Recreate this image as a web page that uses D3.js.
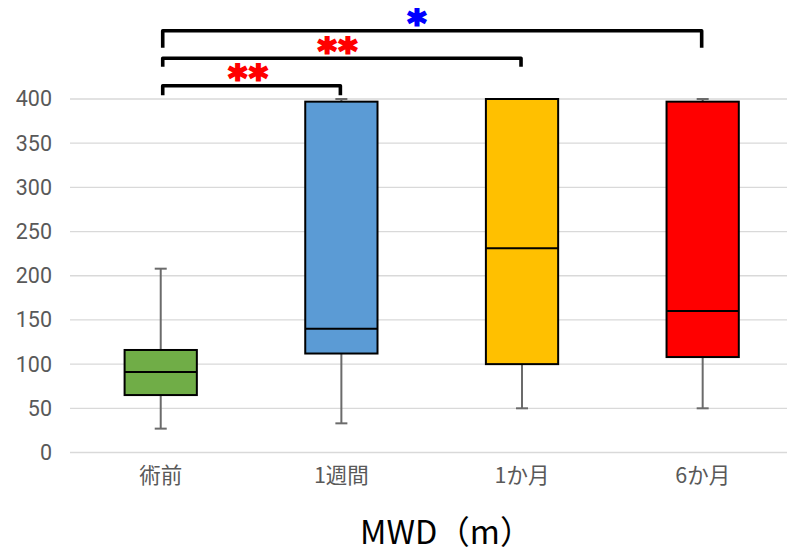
<!DOCTYPE html>
<html>
<head>
<meta charset="utf-8">
<script src="https://cdn.jsdelivr.net/npm/d3@7"></script>
<style>
  html, body { margin: 0; padding: 0; background: #fff; }
  svg { display: block; }
</style>
</head>
<body>
<svg id="chart" width="787" height="555"></svg>
<script>
// Groups along the x axis
const categories = ["術前", "1週間", "1か月", "6か月"];
// Five-number summaries per group (MWD, metres)
const whiskerLow  = [27, 33, 50, 50];
const q1          = [65, 112, 100, 108];
const median      = [91, 140, 231, 160];
const q3          = [116, 397, 400, 397];
const whiskerHigh = [208, 400, 400, 400];
const boxColors   = ["#70AD47", "#5B9BD5", "#FFC000", "#FF0000"];
// Y axis ticks
const yTicks = [0, 50, 100, 150, 200, 250, 300, 350, 400];
// Significance brackets: from group, to group, marker text, marker colour
const bracketFrom  = ["術前", "術前", "術前"];
const bracketTo    = ["1週間", "1か月", "6か月"];
const bracketMarks = ["**", "**", "*"];
const bracketColor = ["#FF0000", "#FF0000", "#0000FF"];
const titleText = "MWD（m）";

const W = 787, H = 555;
const svg = d3.select("#chart");

const x = d3.scaleBand().domain(categories).range([70.4, 793]).paddingInner(0).paddingOuter(0);
const y = d3.scaleLinear().domain([0, 400]).range([452.5, 99]);
const cx = c => x(c) + x.bandwidth() / 2;
const boxW = x.bandwidth() * 0.4;

// Horizontal gridlines
svg.append("g").selectAll("line").data(yTicks).join("line")
  .attr("x1", 70).attr("x2", W)
  .attr("y1", d => y(d)).attr("y2", d => y(d))
  .attr("stroke", "#d9d9d9").attr("stroke-width", 1.3);

// Y axis labels through a d3 axis (domain and tick marks hidden)
const yAxis = svg.append("g").attr("transform", "translate(70,0)")
  .call(d3.axisLeft(y).tickValues(yTicks).tickSize(0).tickPadding(18));
yAxis.select(".domain").remove();
yAxis.selectAll("text")
  .attr("fill", "#595959")
  .style("font-family", "Roboto, 'Liberation Sans', sans-serif")
  .style("font-size", "21.5px");

// X axis category labels
const xAxis = svg.append("g").attr("transform", "translate(0,453)")
  .call(d3.axisBottom(x).tickSize(0).tickPadding(18));
xAxis.select(".domain").remove();
xAxis.selectAll("text")
  .attr("fill", "#595959")
  .attr("dy", "0.55em")
  .style("font-family", "'Noto Sans CJK JP', Roboto, sans-serif")
  .style("font-size", "21.5px");

// Box plots
const groups = svg.append("g").selectAll("g").data(categories).join("g");
groups.each(function(c, i) {
  const g = d3.select(this);
  const xc = cx(c);
  // whiskers
  g.append("line").attr("x1", xc).attr("x2", xc)
    .attr("y1", y(whiskerLow[i])).attr("y2", y(q1[i]))
    .attr("stroke", "#6b6b6b").attr("stroke-width", 2);
  g.append("line").attr("x1", xc).attr("x2", xc)
    .attr("y1", y(whiskerHigh[i])).attr("y2", y(q3[i]))
    .attr("stroke", "#6b6b6b").attr("stroke-width", 2);
  [whiskerLow[i], whiskerHigh[i]].forEach(v => {
    g.append("line").attr("x1", xc - 6).attr("x2", xc + 6)
      .attr("y1", y(v)).attr("y2", y(v))
      .attr("stroke", "#6b6b6b").attr("stroke-width", 2);
  });
  // box
  g.append("rect")
    .attr("x", xc - boxW / 2).attr("width", boxW)
    .attr("y", y(q3[i])).attr("height", y(q1[i]) - y(q3[i]))
    .attr("fill", boxColors[i]).attr("stroke", "#000").attr("stroke-width", 2);
  // median
  g.append("line").attr("x1", xc - boxW / 2).attr("x2", xc + boxW / 2)
    .attr("y1", y(median[i])).attr("y2", y(median[i]))
    .attr("stroke", "#000").attr("stroke-width", 2);
});

// Significance brackets (stacked above the plot)
const bracketTop = [85.7, 58.3, 30.7];
const bracketLeg = [9.5, 8.5, 17];
const markY = [74, 47, 19];
const markX = [248, 337.5, 417];
const br = svg.append("g");
bracketFrom.forEach((f, i) => {
  const x1 = cx(f) + 2, x2 = cx(bracketTo[i]) - 1;
  const t = bracketTop[i], l = bracketLeg[i];
  br.append("path")
    .attr("d", `M${x1},${t + l}V${t}H${x2}V${t + l}`)
    .attr("fill", "none").attr("stroke", "#000")
    .attr("stroke-width", 3.6).attr("stroke-linejoin", "round");
  const n = bracketMarks[i].length;
  br.append("text")
    .attr("x", markX[i] + (n > 1 ? 1 : 0)).attr("y", markY[i] + 16)
    .attr("text-anchor", "middle")
    .attr("fill", bracketColor[i])
    .attr("stroke", bracketColor[i]).attr("stroke-width", 2)
    .attr("stroke-linejoin", "miter")
    .style("letter-spacing", n > 1 ? "2px" : "0px")
    .style("font-family", "'DejaVu Sans', sans-serif")
    .style("font-weight", "bold")
    .style("font-size", "36px")
    .text(bracketMarks[i]);
});

// Axis title
svg.append("text")
  .attr("x", 360).attr("y", 544)
  .attr("text-anchor", "start")
  .attr("fill", "#000")
  .style("font-family", "'Noto Sans CJK JP', sans-serif")
  .style("font-size", "32.5px")
  .text(titleText);
</script>
</body>
</html>
